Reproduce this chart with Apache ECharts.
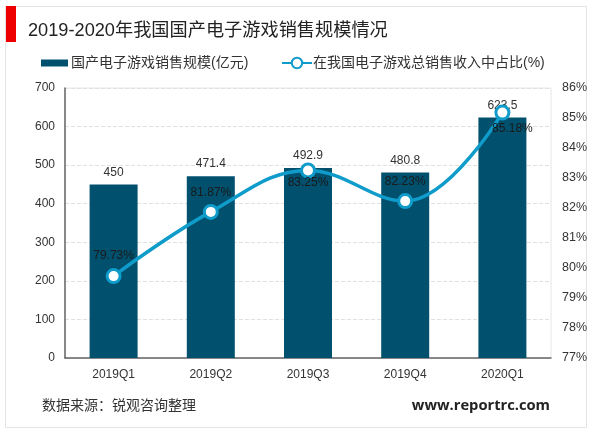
<!DOCTYPE html>
<html>
<head>
    <meta charset="utf-8">
    <title>ECharts</title>
    <script src="https://cdn.jsdelivr.net/npm/echarts@6/dist/echarts.min.js"></script>
    <style>html,body{margin:0;padding:0;background:#fff}</style>
</head>
<body>
<div id="main" style="width:600px;height:433px;"></div>
<script type="text/javascript">
    var categories = ['2019Q1', '2019Q2', '2019Q3', '2019Q4', '2020Q1'];
    var salesValues = [450, 471.4, 492.9, 480.8, 623.5];
    var shareValues = [79.73, 81.87, 83.25, 82.23, 85.18];
    var barName = '国产电子游戏销售规模(亿元)';
    var lineName = '在我国电子游戏总销售收入中占比(%)';

    var cjk = '"Liberation Sans", "Noto Sans CJK SC", sans-serif';
    var myChart = echarts.init(document.getElementById('main'));

    // 折线标签的偏移，各点上下位置不一样
    var shareLabelOffset = [[0, -38], [0, -37], [0, -6], [0, -37], [10, -2]];

    var option = {
        animation: false,
        backgroundColor: '#fff',
        textStyle: { fontFamily: cjk },
        title: [
            { text: '2019-2020年我国国产电子游戏销售规模情况', left: 23, top: 17,
              textStyle: { fontSize: 18.2, fontWeight: 'normal', color: '#222', fontFamily: cjk } },
            { text: '数据来源：锐观咨询整理', left: 37, top: 394,
              textStyle: { fontSize: 14, fontWeight: 'normal', color: '#333', fontFamily: cjk } },
            { text: 'www.reportrc.com', right: 45, top: 393,
              textStyle: { fontSize: 14.7, fontWeight: 'bold', color: '#222', fontFamily: '"Open Sans", sans-serif' } }
        ],
        graphic: [
            { type: 'rect', shape: { x: 5.5, y: 6.5, width: 581, height: 421 }, style: { fill: 'none', stroke: '#e4e4e4', lineWidth: 1 } },
            { type: 'rect', shape: { x: 6, y: 6, width: 10, height: 36 }, style: { fill: '#ee0000' } }
        ],
        legend: [
            {
                top: 51, left: 36, itemWidth: 27, itemHeight: 7,
                textStyle: { fontSize: 14, color: '#333', padding: [0, 0, 0, -2] },
                data: [{ name: barName, icon: 'rect' }]
            },
            {
                top: 51, left: 276, itemWidth: 30, itemHeight: 13,
                textStyle: { fontSize: 14, color: '#333', padding: [0, 0, 0, -4] },
                data: [{ name: lineName }]
            }
        ],
        grid: { show: true, left: 65, right: 49, top: 88, bottom: 75, borderColor: '#e6e6e6', borderWidth: 1 },
        xAxis: {
            type: 'category',
            data: categories,
            axisLine: { lineStyle: { color: '#666', width: 1.5 } },
            axisTick: { show: false },
            axisLabel: { color: '#333', fontSize: 12, margin: 11 }
        },
        yAxis: [
            {
                type: 'value', min: 0, max: 700, interval: 100,
                axisLine: { show: true, lineStyle: { color: '#666', width: 1.5 } },
                axisTick: { show: false },
                axisLabel: { color: '#333', fontSize: 12, margin: 10 },
                splitLine: { lineStyle: { color: '#e0e0e0', type: 'dashed' } }
            },
            {
                type: 'value', min: 77, max: 86, interval: 1,
                axisLine: { show: false },
                axisTick: { show: false },
                axisLabel: { color: '#333', fontSize: 12.5, margin: 11, formatter: '{value}%' },
                splitLine: { show: false }
            }
        ],
        series: [
            {
                name: barName, type: 'bar', barWidth: 48, data: salesValues,
                itemStyle: { color: '#00506e' },
                label: { show: true, position: 'top', color: '#333', fontSize: 12, distance: 6 }
            },
            {
                name: lineName, type: 'line', yAxisIndex: 1, smooth: 0.4, data: shareValues,
                symbol: 'circle', symbolSize: 13,
                lineStyle: { color: '#0f9ccb', width: 3.5 },
                itemStyle: { color: '#fff', borderColor: '#0f9ccb', borderWidth: 3 },
                label: {
                    show: true, position: 'bottom', distance: 4, color: '#1a1a1a', fontSize: 12,
                    formatter: function (p) { return p.value.toFixed(2) + '%'; }
                },
                labelLayout: function (p) {
                    return { dx: shareLabelOffset[p.dataIndex][0], dy: shareLabelOffset[p.dataIndex][1] };
                }
            }
        ]
    };
    myChart.setOption(option);
</script>
</body>
</html>
